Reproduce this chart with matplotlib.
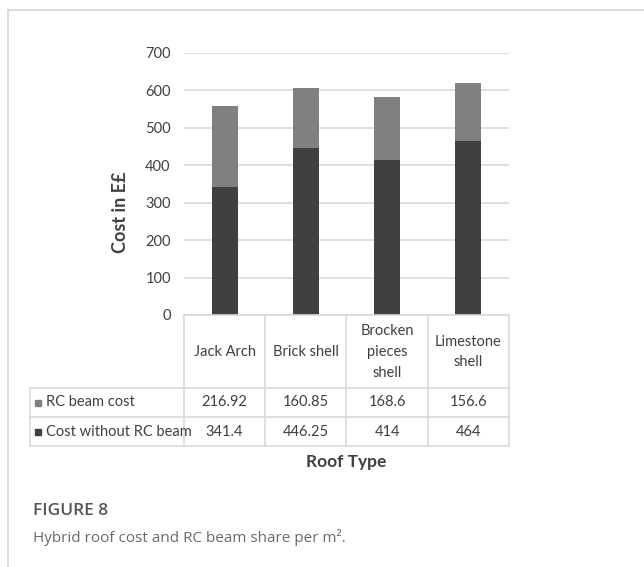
import matplotlib
matplotlib.use("Agg")
import matplotlib.pyplot as plt
from matplotlib.lines import Line2D
from matplotlib.patches import Rectangle

categories = ["Jack Arch", "Brick shell", "Brocken\npieces\nshell", "Limestone\nshell"]
series_names = ["RC beam cost", "Cost without RC beam"]
rc_beam = [216.92, 160.85, 168.6, 156.6]
without_rc = [341.4, 446.25, 414, 464]
rc_labels = ["216.92", "160.85", "168.6", "156.6"]
without_labels = ["341.4", "446.25", "414", "464"]
yticks = [0, 100, 200, 300, 400, 500, 600, 700]

C_DARK = "#404040"
C_RC = "#808080"
C_GRID = "#d9d9d9"
C_TXT = "#404040"
FONT = ["Lato", "DejaVu Sans"]
FS = 10.5

W, H = 644, 567
fig = plt.figure(figsize=(W / 100, H / 100), dpi=100)

def fx(px):
    return px / W

def fy(py):
    return 1 - py / H

# outer frame lines
fig.add_artist(Line2D([fx(8), fx(8)], [fy(10), 0], color="#d4d4d4", lw=1.2))
fig.add_artist(Line2D([fx(8), 1], [fy(10), fy(10)], color="#d4d4d4", lw=1.2))

# plot area
L, R, T, B = 184, 509, 53, 315
ax = fig.add_axes([fx(L), fy(B), fx(R) - fx(L), fy(T) - fy(B)])
x = list(range(len(categories)))
ax.bar(x, without_rc, width=0.32, color=C_DARK, zorder=3)
ax.bar(x, rc_beam, width=0.32, bottom=without_rc, color=C_RC, zorder=3)
ax.set_xlim(-0.5, len(categories) - 0.5)
ax.set_ylim(0, 700)
ax.set_yticks(yticks)
ax.set_yticklabels([str(t) for t in yticks], fontfamily=FONT, fontsize=FS, color=C_TXT)
ax.set_xticks([])
ax.grid(axis="y", color=C_GRID, lw=1.2, zorder=0)
for s in ["top", "right", "left", "bottom"]:
    ax.spines[s].set_visible(False)
ax.tick_params(axis="y", length=0, pad=9.5)

fig.text(fx(120), fy(212), "Cost in E£", fontfamily=FONT, fontsize=13, fontweight="bold",
         color=C_TXT, rotation=90, ha="center", va="center")

# table axes (pixel coordinates)
TL, TR, TT, TB = 30, 509, 315, 446
tax = fig.add_axes([fx(TL), fy(TB), fx(TR) - fx(TL), fy(TT) - fy(TB)])
tax.set_xlim(TL, TR)
tax.set_ylim(TB, TT)
tax.axis("off")

col_edges = [L + (R - L) * i / len(categories) for i in range(len(categories) + 1)]
row_edges = [315, 388, 417, 446]
lkw = dict(color=C_GRID, lw=1.2, clip_on=False)
tax.plot([L, R], [row_edges[0], row_edges[0]], **lkw)
for ye in row_edges[1:]:
    tax.plot([TL, R], [ye, ye], **lkw)
for xe in col_edges:
    tax.plot([xe, xe], [row_edges[0], row_edges[-1]], **lkw)
tax.plot([TL, TL], [row_edges[1], row_edges[-1]], **lkw)

fkw = dict(fontfamily=FONT, fontsize=FS, color=C_TXT, ha="center", va="center")
for i, c in enumerate(categories):
    xc = (col_edges[i] + col_edges[i + 1]) / 2
    tax.text(xc, (row_edges[0] + row_edges[1]) / 2 + 0.5, c, linespacing=1.6, **fkw)
    tax.text(xc, (row_edges[1] + row_edges[2]) / 2, rc_labels[i], **fkw)
    tax.text(xc, (row_edges[2] + row_edges[3]) / 2, without_labels[i], **fkw)

for j, (name, col) in enumerate(zip(series_names, [C_RC, C_DARK])):
    yc = (row_edges[j + 1] + row_edges[j + 2]) / 2
    tax.add_patch(Rectangle((35, yc - 3), 6, 6, color=col, clip_on=False))
    tax.text(46, yc, name, fontfamily=FONT, fontsize=FS, color=C_TXT, ha="left", va="center")

fig.text(fx((L + R) / 2), fy(462), "Roof Type", fontfamily=FONT, fontsize=12.5,
         fontweight="bold", color=C_TXT, ha="center", va="center")

# caption
fig.text(fx(33), fy(511), "FIGURE 8", fontfamily=["Open Sans", "DejaVu Sans"], fontsize=12.5,
         fontweight="semibold", color="#555555", ha="left", va="center")
fig.text(fx(33), fy(537), "Hybrid roof cost and RC beam share per m².",
         fontfamily=["Open Sans", "DejaVu Sans"], fontsize=11, color="#6a6a6a",
         ha="left", va="center")

fig.savefig("out.png", dpi=100)
